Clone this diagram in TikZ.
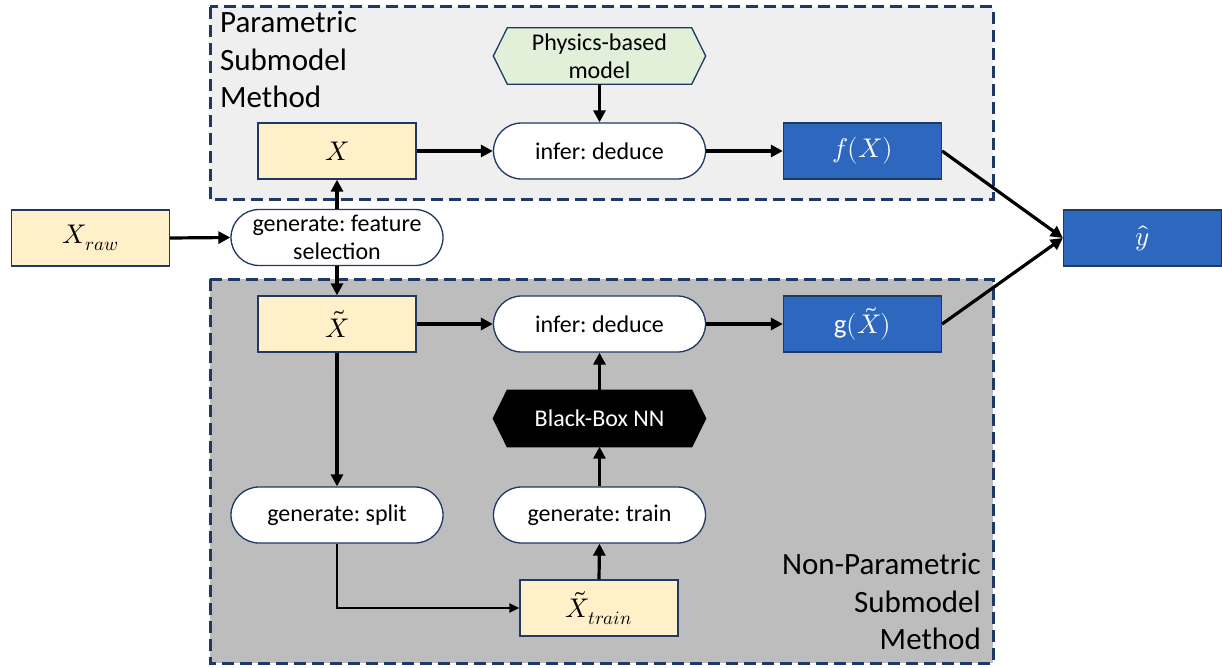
\documentclass[tikz,border=0pt]{standalone}
\usepackage{fontspec}
\usepackage{unicode-math}
\setmainfont{Carlito}
\setmathfont{Latin Modern Math}
\usetikzlibrary{arrows.meta,calc}
\definecolor{navy}{HTML}{1F3864}
\definecolor{ylw}{HTML}{FFF0C9}
\definecolor{blu}{HTML}{2E68BE}
\definecolor{lgray}{HTML}{EFEFEF}
\definecolor{dgray}{HTML}{BDBDBD}
\definecolor{grn}{HTML}{E2EFD9}
\pgfdeclarelayer{back}
\pgfdeclarelayer{mid}
\pgfsetlayers{back,mid,main}
\tikzset{
  base/.style={inner sep=0pt, align=center, font=\fontsize{24}{28}\selectfont\frenchspacing},
  mathf/.style={font=\fontsize{27}{30}\selectfont},
  ybox/.style={base, mathf, rectangle, draw=navy, line width=1.3pt, fill=ylw, minimum width=158pt, minimum height=56pt},
  bbox/.style={base, mathf, rectangle, draw=navy, line width=1.3pt, fill=blu, text=white, minimum width=158pt, minimum height=56pt},
  pill/.style={base, rectangle, rounded corners=28pt, draw=navy, line width=1.3pt, fill=white, minimum width=212pt, minimum height=56pt},
  hexn/.style={base, rectangle, minimum width=212pt, minimum height=56pt},
  container/.style={draw=navy, line width=3pt, dash pattern=on 12pt off 6pt},
  arr/.style={-{Triangle[length=12pt,width=12pt]}, line width=3.2pt},
  tarr/.style={-{Triangle[length=10pt,width=9pt]}, line width=2.2pt},
  biglabel/.style={inner sep=0pt, font=\fontsize{31}{37.5}\selectfont}
}
\begin{document}
\begin{tikzpicture}[x=1pt,y=-1pt]
\useasboundingbox (0,0) rectangle (1222,668);
% containers
\begin{pgfonlayer}{back}
\fill[lgray] (210,7) rectangle (993,200);
\fill[dgray] (210,279) rectangle (993,663);
\draw[container] (210,7) rectangle (993,200);
\draw[container] (210,279) rectangle (993,663);
\end{pgfonlayer}
\node[biglabel, anchor=north west, align=left] (plab) at (220,11) {Parametric\\Submodel\\Method};
\node[biglabel, anchor=south east, align=right] (nlab) at (981,650) {Non-Parametric\\Submodel\\Method};
% nodes
\node[ybox] (xraw) at (90.5,238) {$X_{raw}$};
\node[pill] (gen) at (337,237.5) {generate: feature\\selection};
\node[ybox] (X) at (337,151) {$X$};
\node[pill] (inf1) at (599.5,151) {infer: deduce};
\node[hexn] (phys) at (599.5,56) {Physics-based\\model};
\node[bbox] (fx) at (862.5,151) {$f(X)$};
\node[bbox] (yhat) at (1142.5,238) {$\hat{y}$};
\node[ybox] (Xt) at (337,324) {$\tilde{X}$};
\node[pill] (inf2) at (599.5,324) {infer: deduce};
\node[bbox] (gx) at (862.5,324) {$\mathrm{g}(\tilde{X})$};
\node[hexn, text=white] (bb) at (599.5,418.5) {Black-Box NN};
\node[pill] (split) at (337,515) {generate: split};
\node[pill] (train) at (599.5,515) {generate: train};
\node[ybox] (xtr) at (599,608) {$\tilde{X}_{train}$};
% hexagon outlines
\begin{pgfonlayer}{mid}
\draw[navy, line width=1.3pt, fill=grn] (phys.west) -- ($(phys.north west)+(14,0)$) -- ($(phys.north east)+(-14,0)$) -- (phys.east) -- ($(phys.south east)+(-14,0)$) -- ($(phys.south west)+(14,0)$) -- cycle;
\draw[black, line width=1.3pt, fill=black] (bb.west) -- ($(bb.north west)+(14,0)$) -- ($(bb.north east)+(-14,0)$) -- (bb.east) -- ($(bb.south east)+(-14,0)$) -- ($(bb.south west)+(14,0)$) -- cycle;
\end{pgfonlayer}
% connectors
\draw[arr] (xraw.east) -- (gen.west);
\draw[arr] (gen.north) -- (X.south);
\draw[arr] (gen.south) -- (Xt.north);
\draw[arr] (X.east) -- (inf1.west);
\draw[arr] (phys.south) -- (inf1.north);
\draw[arr] (inf1.east) -- (fx.west);
\draw[arr] (fx.east) -- (yhat.west);
\draw[arr] (gx.east) -- (yhat.west);
\draw[arr] (Xt.east) -- (inf2.west);
\draw[arr] (inf2.east) -- (gx.west);
\draw[arr] (Xt.south) -- (split.north);
\draw[tarr] (split.south) |- (xtr.west);
\draw[arr] (xtr.north) -- (train.south);
\draw[arr] (train.north) -- (bb.south);
\draw[arr] (bb.north) -- (inf2.south);
\end{tikzpicture}
\end{document}
